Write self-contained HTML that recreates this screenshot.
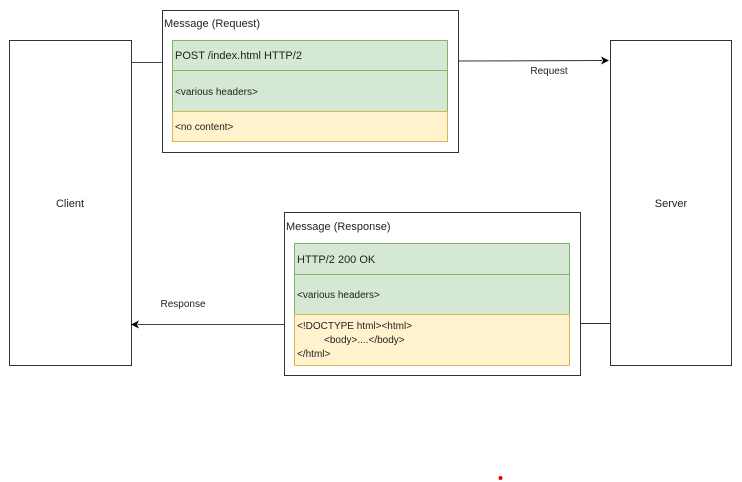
<!DOCTYPE html>
<html><head><style>html,body{margin:0;padding:0;background:#fff;}svg{display:block;}</style></head>
<body>
<svg width="742" height="482" viewBox="0 0 742 482" xmlns="http://www.w3.org/2000/svg" font-family="Liberation Sans, sans-serif" font-size="11" fill="#222">
<rect width="742" height="482" fill="#fff"/>
<rect x="9.5" y="40.5" width="122" height="325" fill="#fff" stroke="#333"/>
<rect x="610.5" y="40.5" width="121" height="325" fill="#fff" stroke="#333"/>
<text x="70" y="207" text-anchor="middle">Client</text>
<text x="671" y="207" text-anchor="middle">Server</text>
<line x1="131" y1="62.5" x2="162" y2="62.5" stroke="#444"/>
<line x1="458" y1="61" x2="602" y2="60.5" stroke="#333"/>
<path d="M609 60.5 L601 56.5 L603 60.5 L601 64.5 Z" fill="#000"/>
<text x="549" y="74" text-anchor="middle" font-size="10">Request</text>
<line x1="284" y1="324.5" x2="138" y2="324.5" stroke="#444"/>
<path d="M131 324.5 L139 320.5 L137 324.5 L139 328.5 Z" fill="#000"/>
<line x1="580" y1="323.5" x2="610" y2="323.5" stroke="#333"/>
<text x="183" y="307" text-anchor="middle" font-size="10">Response</text>
<rect x="162.5" y="10.5" width="296" height="142" fill="#fff" stroke="#333"/>
<text x="164" y="27">Message (Request)</text>
<rect x="172.5" y="40.5" width="275" height="30" fill="#d5e8d4" stroke="#82b366"/>
<rect x="172.5" y="70.5" width="275" height="41" fill="#d5e8d4" stroke="#82b366"/>
<rect x="172.5" y="111.5" width="275" height="30" fill="#fff2cc" stroke="#d6b656"/>
<text x="175" y="59">POST /index.html  HTTP/2</text>
<text x="175" y="95" font-size="10">&lt;various headers&gt;</text>
<text x="175" y="130" font-size="10">&lt;no content&gt;</text>
<rect x="284.5" y="212.5" width="296" height="163" fill="#fff" stroke="#333"/>
<text x="286" y="230">Message (Response)</text>
<rect x="294.5" y="243.5" width="275" height="31" fill="#d5e8d4" stroke="#82b366"/>
<rect x="294.5" y="274.5" width="275" height="40" fill="#d5e8d4" stroke="#82b366"/>
<rect x="294.5" y="314.5" width="275" height="51" fill="#fff2cc" stroke="#d6b656"/>
<text x="297" y="263">HTTP/2 200 OK</text>
<text x="297" y="298" font-size="10">&lt;various headers&gt;</text>
<text x="297" y="329" font-size="10">&lt;!DOCTYPE html&gt;&lt;html&gt;</text>
<text x="324" y="343" font-size="10">&lt;body&gt;....&lt;/body&gt;</text>
<text x="297" y="357" font-size="10">&lt;/html&gt;</text>
<circle cx="500.5" cy="478" r="2" fill="#e00"/>
</svg>
</body></html>
